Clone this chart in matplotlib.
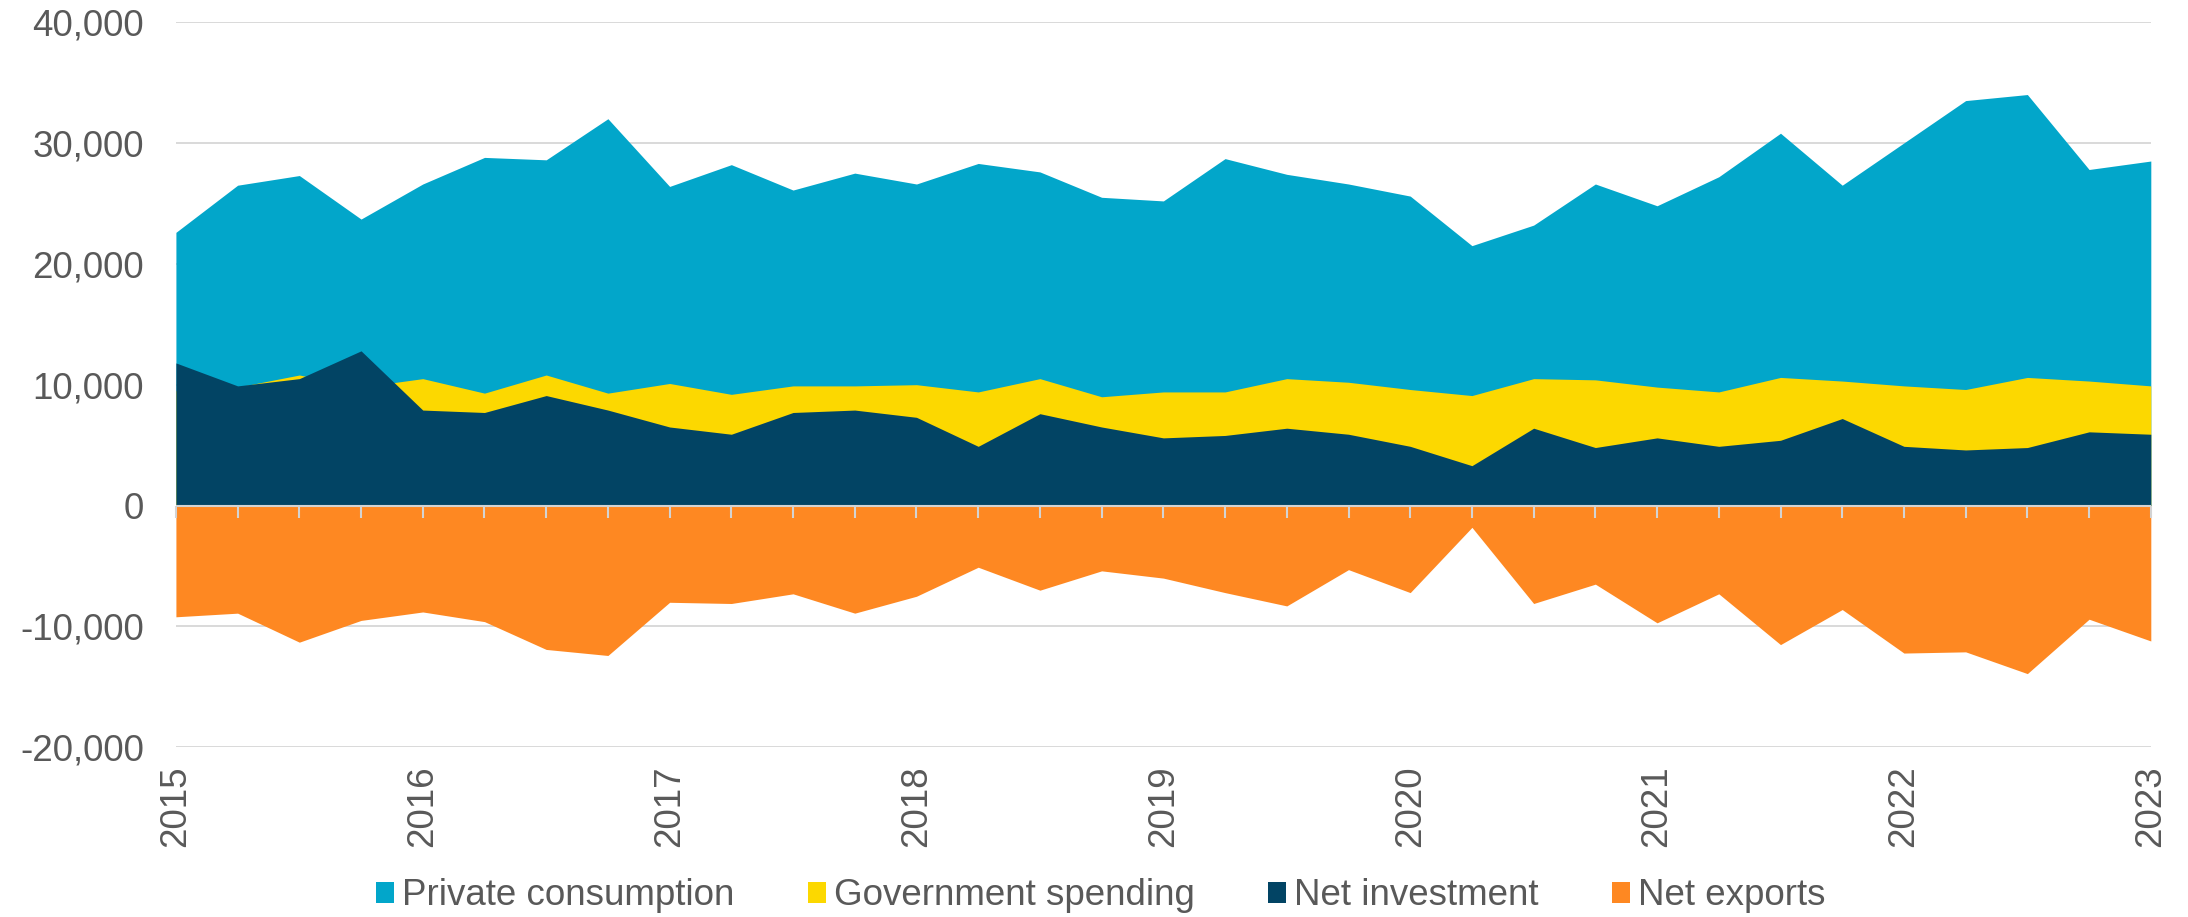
import numpy as np
import matplotlib
matplotlib.use("Agg")
import matplotlib.pyplot as plt
from matplotlib.patches import Patch
from matplotlib.ticker import FuncFormatter

# quarterly values, 2015Q1 .. 2023Q1
private_consumption = [22600, 26500, 27300, 23700,
                       26600, 28800, 28600, 32000,
                       26400, 28200, 26100, 27500,
                       26600, 28300, 27600, 25500,
                       25200, 28700, 27400, 26600,
                       25600, 21500, 23200, 26600,
                       24800, 27200, 30800, 26500,
                       30000, 33500, 34000, 27800,
                       28500]
government_spending = [9500, 9800, 10800, 9800,
                       10500, 9300, 10800, 9300,
                       10100, 9200, 9900, 9900,
                       10000, 9400, 10500, 9000,
                       9400, 9400, 10500, 10200,
                       9600, 9100, 10500, 10400,
                       9800, 9400, 10600, 10300,
                       9900, 9600, 10600, 10300,
                       9900]
net_investment = [11800, 9900, 10500, 12800,
                  7900, 7700, 9100, 7900,
                  6500, 5900, 7700, 7900,
                  7300, 4900, 7600, 6500,
                  5600, 5800, 6400, 5900,
                  4900, 3300, 6400, 4800,
                  5600, 4900, 5400, 7200,
                  4900, 4600, 4800, 6100,
                  5900]
net_exports = [-9200, -8900, -11300, -9500,
               -8800, -9600, -11900, -12400,
               -8000, -8100, -7300, -8900,
               -7500, -5100, -7000, -5400,
               -6000, -7200, -8300, -5300,
               -7200, -1800, -8100, -6500,
               -9700, -7300, -11500, -8600,
               -12200, -12100, -13900, -9400,
               -11200]

labels = ["Private consumption", "Government spending", "Net investment", "Net exports"]
colors = ["#02A6CA", "#FCD800", "#024464", "#FE8822"]
year_ticks = list(range(2015, 2024))

x = 2015 + np.arange(len(private_consumption)) * 0.25

plt.rcParams["font.family"] = ["Liberation Sans", "DejaVu Sans"]
plt.rcParams["axes.unicode_minus"] = False
text_color = "#595959"
fs = 26.5

fig = plt.figure(figsize=(21.88, 9.17), dpi=100)
ax = fig.add_axes([0.0804, 0.185, 0.9026, 0.791])
ax.set_axisbelow(True)

# areas overlap rather than stack: each one is filled from zero
for series, c in zip([private_consumption, government_spending, net_investment, net_exports], colors):
    ax.fill_between(x, 0, series, color=c, linewidth=0, zorder=2)

ax.set_ylim(-20000, 40000)
ax.set_xlim(2015, 2023)
ax.set_yticks(np.arange(-20000, 40001, 10000))
ax.yaxis.set_major_formatter(FuncFormatter(lambda v, p: f"{v:,.0f}"))
ax.grid(axis="y", color="#D9D9D9", linewidth=1.4)
ax.axhline(0, color="#D3D3D3", linewidth=1.5, zorder=3)

ax.set_xticks(year_ticks)
ax.set_xticklabels([str(y) for y in year_ticks], rotation=90)
ax.tick_params(axis="x", length=0, pad=13, labelsize=fs, labelcolor=text_color)
ax.tick_params(axis="y", length=0, pad=23, labelsize=fs, labelcolor=text_color)
for s in ax.spines.values():
    s.set_visible(False)

# quarter tick marks hanging from the zero line
sec = ax.secondary_xaxis(1 / 3)
sec.set_xticks(x)
sec.tick_params(axis="x", direction="out", length=8.5, width=1.5, color="#D3D3D3",
                labelbottom=False, labeltop=False)
sec.spines["bottom"].set_visible(False)
sec.spines["top"].set_visible(False)
sec.set_zorder(4)

handles = [Patch(facecolor=c, edgecolor="none") for c in colors]
fig.legend(handles, labels, loc="center", bbox_to_anchor=(0.503, 0.023), ncol=4, frameon=False,
           fontsize=fs, labelcolor=text_color, handlelength=0.5, handleheight=0.5,
           handletextpad=0.2, columnspacing=2.0, borderpad=0)

fig.savefig("out.png", dpi=100)
